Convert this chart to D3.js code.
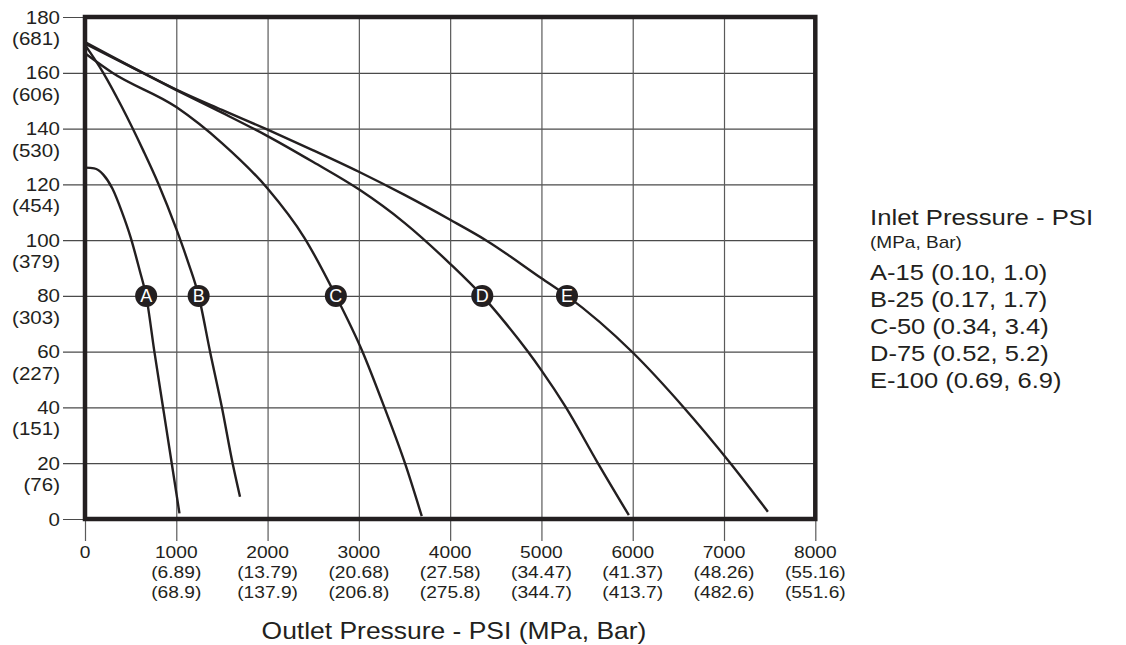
<!DOCTYPE html>
<html>
<head>
<meta charset="utf-8">
<script src="https://cdn.jsdelivr.net/npm/d3@7"></script>
<style>
  html, body { margin: 0; padding: 0; background: #fff; }
  svg { display: block; }
  text { font-family: "Liberation Sans", Arial, Helvetica, sans-serif; fill: #231f20; }
</style>
</head>
<body>
<svg id="chart" width="1126" height="645"></svg>
<script>
// ---------- data ----------
const xTicks = [0, 1000, 2000, 3000, 4000, 5000, 6000, 7000, 8000];
const xMpa   = ["", "(6.89)", "(13.79)", "(20.68)", "(27.58)", "(34.47)", "(41.37)", "(48.26)", "(55.16)"];
const xBar   = ["", "(68.9)", "(137.9)", "(206.8)", "(275.8)", "(344.7)", "(413.7)", "(482.6)", "(551.6)"];
const yTicks = [0, 20, 40, 60, 80, 100, 120, 140, 160, 180];
const yAlt   = ["", "(76)", "(151)", "(227)", "(303)", "(379)", "(454)", "(530)", "(606)", "(681)"];

const curveA = [[0,126],[100,125.7],[200,123.5],[300,118.5],[400,110.5],[500,101],[600,89],[670,80],[760,60],[855,40],[950,20],[1035,2]];
const curveB = [[0,170],[200,160],[400,148],[640,132],[800,120.5],[1000,104],[1130,92],[1245,80],[1370,60],[1500,40],[1617,20],[1698,8]];
const curveC = [[0,167],[300,160],[1000,147.7],[1500,134.8],[2000,118.5],[2400,101],[2748,80],[3040,60],[3280,40],[3505,20],[3689,1]];
const curveD = [[0,170.5],[600,160.5],[1000,153.8],[1500,145.7],[2000,137.3],[2500,128],[3000,118.2],[3500,106.2],[4000,91.5],[4352,80],[4600,70.5],[4845,60.3],[5000,53.3],[5265,40.2],[5610,20.5],[5957,1.4]];
const curveE = [[0,171],[600,160.6],[1000,154],[1500,146.7],[2000,139.6],[2500,132.2],[3000,124.5],[3500,116.2],[4000,107.3],[4400,99.8],[5000,86.3],[5280,80],[6000,59.7],[6559,40],[7070,20],[7481,2.6]];

const markerLetters = ["A", "B", "C", "D", "E"];
const markerPsi = [670, 1245, 2748, 4352, 5280];
const markerValue = 80;

const legendTitle = "Inlet Pressure - PSI";
const legendUnits = "(MPa, Bar)";
const legendItems = ["A-15 (0.10, 1.0)", "B-25 (0.17, 1.7)", "C-50 (0.34, 3.4)", "D-75 (0.52, 5.2)", "E-100 (0.69, 6.9)"];
const xTitle = "Outlet Pressure - PSI (MPa, Bar)";

// ---------- layout ----------
const svg = d3.select("#chart");
const X0 = 85, X1 = 815.3, Y0 = 519, Y1 = 17;
const x = d3.scaleLinear().domain([0, 8000]).range([X0, X1]);
const y = d3.scaleLinear().domain([0, 180]).range([Y0, Y1]);
const ink = "#231f20";

function label(parent, tx, ty, txt, size, anchor, sx) {
  return parent.append("text")
    .attr("transform", `translate(${tx},${ty}) scale(${sx || 1},1)`)
    .attr("text-anchor", anchor || "start")
    .attr("font-size", size)
    .text(txt);
}

// horizontal grid + left ticks
const gy = svg.append("g").attr("transform", `translate(${X1},0)`)
  .call(d3.axisLeft(y).tickValues(yTicks).tickSize(X1 - 63).tickFormat(""));
gy.select(".domain").remove();
gy.selectAll(".tick line").attr("stroke", "#4a4a4a").attr("stroke-width", 1.2);

// vertical grid + bottom ticks
const gx = svg.append("g").attr("transform", `translate(0,${Y1})`)
  .call(d3.axisBottom(x).tickValues(xTicks).tickSize(541 - Y1).tickFormat(""));
gx.select(".domain").remove();
gx.selectAll(".tick line").attr("stroke", "#5a5a5a").attr("stroke-width", 1.2);

// y labels
const yl = svg.append("g");
yTicks.forEach((v, i) => {
  label(yl, 60, y(v) + 6.5, v, 18, "end", 1.14);
  if (yAlt[i]) label(yl, 60, y(v) + 28, yAlt[i], 18, "end", 1.14);
});

// x labels
const xl = svg.append("g");
xTicks.forEach((v, i) => {
  label(xl, x(v), 558, v, 17, "middle", 1.13);
  if (xMpa[i]) {
    label(xl, x(v), 578, xMpa[i], 17, "middle", 1.13);
    label(xl, x(v), 598, xBar[i], 17, "middle", 1.13);
  }
});
label(svg, 454, 639, xTitle, 23, "middle", 1.15);

// curves
const line = d3.line().x(d => x(d[0])).y(d => y(d[1])).curve(d3.curveMonotoneX);
[curveA, curveB, curveC, curveD, curveE].forEach(c => {
  svg.append("path").attr("d", line(c)).attr("fill", "none")
    .attr("stroke", ink).attr("stroke-width", 2.4);
});

// frame
svg.append("rect").attr("x", X0).attr("y", Y1).attr("width", X1 - X0).attr("height", Y0 - Y1)
  .attr("fill", "none").attr("stroke", ink).attr("stroke-width", 4.5);

// markers
markerLetters.forEach((L, i) => {
  const g = svg.append("g").attr("transform", `translate(${x(markerPsi[i])},${y(markerValue)})`);
  g.append("circle").attr("r", 11).attr("fill", ink);
  g.append("text").attr("text-anchor", "middle").attr("dy", "0.36em")
    .attr("font-size", 18).style("fill", "#fff").text(L);
});

// legend
const lg = svg.append("g");
label(lg, 870, 225, legendTitle, 22, "start", 1.17);
label(lg, 870, 248, legendUnits, 17, "start", 1.12);
legendItems.forEach((t, i) => label(lg, 870, 280 + i * 27, t, 22, "start", 1.16));
</script>
</body>
</html>
